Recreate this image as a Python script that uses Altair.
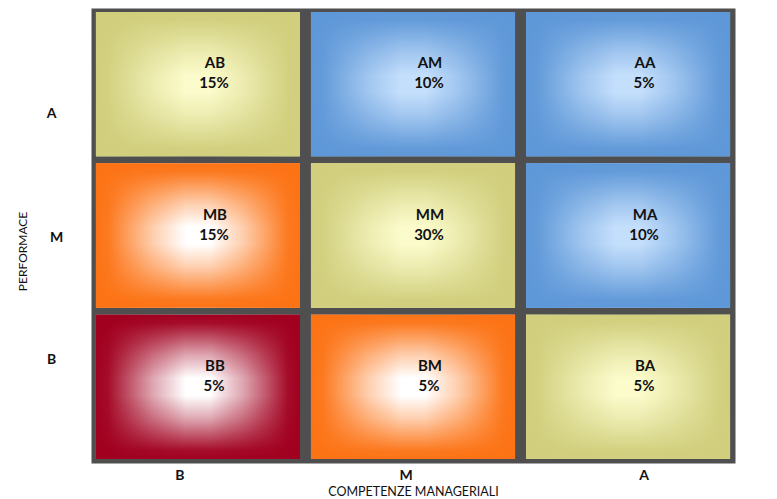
import altair as alt
import pandas as pd

# ---- data ----
performance = ["A", "A", "A", "M", "M", "M", "B", "B", "B"]
competenze = ["B", "M", "A", "B", "M", "A", "B", "M", "A"]
cell_labels = ["AB", "AM", "AA", "MB", "MM", "MA", "BB", "BM", "BA"]
percent = ["15%", "10%", "5%", "15%", "30%", "10%", "5%", "5%", "5%"]
kind = ["giallo", "blu", "blu", "arancio", "giallo", "blu", "rosso", "arancio", "giallo"]
x_order = ["B", "M", "A"]
y_order = ["A", "M", "B"]

df = pd.DataFrame({
    "perf": performance,
    "comp": competenze,
    "label": cell_labels,
    "pct": percent,
    "kind": kind,
})

# (centre colour, edge colour as r,g,b)
palette = {
    "giallo": ("#fbfbcb", (209, 207, 125)),
    "blu": ("#c4dffc", (95, 152, 216)),
    "arancio": ("#ffffff", (252, 115, 21)),
    "rosso": ("#ffffff", (161, 0, 31)),
}

FONT = "Lato"

x_scale = alt.Scale(domain=x_order, paddingInner=0.051, paddingOuter=0.023)
y_scale = alt.Scale(domain=y_order, paddingInner=0.046, paddingOuter=0.026)

x_axis = alt.Axis(
    title="COMPETENZE MANAGERIALI", labelAngle=0, domain=False, ticks=False,
    labelPadding=5, labelFont=FONT, labelFontSize=14, labelFontWeight="bold",
    labelColor="#111111",
    labelOffset={"expr": "datum.value === 'B' ? -18 : datum.value === 'M' ? -7 : 16"},
    titleFont=FONT, titleFontSize=12.5, titleFontWeight="normal",
    titleColor="#111111", titlePadding=3,
)
y_axis = alt.Axis(
    title="PERFORMACE", domain=False, ticks=False, labelAlign="center",
    labelBaseline="middle",
    labelPadding={"expr": "datum.value === 'M' ? 35 : 40"},
    labelFont=FONT, labelFontSize=14, labelFontWeight="bold",
    labelColor="#111111",
    labelOffset={"expr": "datum.value === 'A' ? 30 : datum.value === 'B' ? -27 : 2"},
    titleFont=FONT, titleFontSize=12, titleFontWeight="normal",
    titleColor="#111111", titlePadding=17, titleY=243,
)

X = alt.X("comp:N", sort=x_order, scale=x_scale, axis=x_axis)
Y = alt.Y("perf:N", sort=y_order, scale=y_scale, axis=y_axis)

base = alt.Chart(df)


def rgba(rgb, a):
    return "rgba(%d,%d,%d,%.2f)" % (rgb[0], rgb[1], rgb[2], a)


def edge_gradient(rgb, horizontal):
    stops = [
        alt.GradientStop(color=rgba(rgb, 1.0), offset=0),
        alt.GradientStop(color=rgba(rgb, 0.95), offset=0.06),
        alt.GradientStop(color=rgba(rgb, 0.35), offset=0.28),
        alt.GradientStop(color=rgba(rgb, 0.0), offset=0.44),
        alt.GradientStop(color=rgba(rgb, 0.0), offset=0.56),
        alt.GradientStop(color=rgba(rgb, 0.35), offset=0.72),
        alt.GradientStop(color=rgba(rgb, 0.95), offset=0.94),
        alt.GradientStop(color=rgba(rgb, 1.0), offset=1),
    ]
    if horizontal:
        return alt.Gradient(gradient="linear", stops=stops, x1=0, x2=1, y1=0, y2=0)
    return alt.Gradient(gradient="linear", stops=stops, x1=0, x2=0, y1=0, y2=1)


layers = []
for k, (center, edge) in palette.items():
    sub = base.transform_filter(alt.datum.kind == k)
    layers.append(sub.mark_rect(color=center).encode(x=X, y=Y))
    layers.append(sub.mark_rect(color=edge_gradient(edge, True)).encode(x=X, y=Y))
    layers.append(sub.mark_rect(color=edge_gradient(edge, False)).encode(x=X, y=Y))

names = base.mark_text(
    dx=17, dy=-21, font=FONT, fontSize=15, fontWeight="bold", color="#111111"
).encode(x=X, y=Y, text="label:N")
pcts = base.mark_text(
    dx=16, dy=-1, font=FONT, fontSize=15, fontWeight="bold", color="#111111"
).encode(x=X, y=Y, text="pct:N")

chart = (
    alt.layer(*layers, names, pcts)
    .properties(
        width=644, height=455,
        autosize="none",
        padding={"left": 91, "top": 8, "right": 42, "bottom": 36},
        background="white",
    )
    .configure_view(fill="#4f4f4f", stroke="transparent")
)

chart.save("out.html", embed_options={"renderer": "svg", "actions": False})
